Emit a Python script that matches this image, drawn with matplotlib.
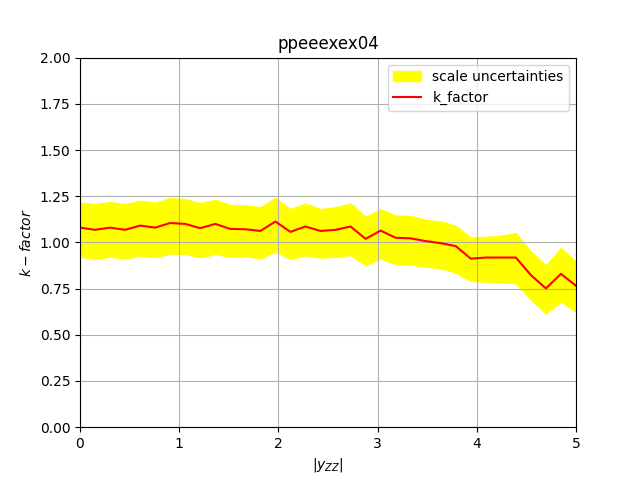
import numpy as np
import matplotlib
matplotlib.use("Agg")
import matplotlib.pyplot as plt

x = np.linspace(0, 5, 34)
k_factor = [1.08, 1.068, 1.08, 1.068, 1.091, 1.08, 1.105, 1.10, 1.077, 1.10, 1.073, 1.071,
            1.062, 1.113, 1.057, 1.086, 1.062, 1.068, 1.086, 1.019, 1.064, 1.025, 1.022,
            1.007, 0.996, 0.98, 0.912, 0.918, 0.918, 0.918, 0.823, 0.751, 0.83, 0.765]
upper = [1.216, 1.207, 1.218, 1.207, 1.225, 1.214, 1.24, 1.234, 1.212, 1.23, 1.203, 1.20,
         1.19, 1.24, 1.18, 1.21, 1.18, 1.19, 1.21, 1.138, 1.18, 1.145, 1.143, 1.122,
         1.113, 1.09, 1.025, 1.03, 1.036, 1.05, 0.95, 0.875, 0.97, 0.895]
lower = [0.923, 0.91, 0.923, 0.912, 0.929, 0.92, 0.94, 0.937, 0.92, 0.937, 0.923, 0.925,
         0.914, 0.95, 0.912, 0.93, 0.918, 0.923, 0.932, 0.876, 0.914, 0.883, 0.88, 0.87,
         0.86, 0.837, 0.792, 0.788, 0.783, 0.78, 0.69, 0.617, 0.68, 0.625]

fig, ax = plt.subplots(figsize=(6.4, 4.8), dpi=100)
ax.fill_between(x, lower, upper, color='yellow', label='scale uncertainties')
ax.plot(x, k_factor, color='red', label='k_factor')
ax.set_xlim(0, 5)
ax.set_ylim(0, 2)
ax.grid(True)
ax.set_title('ppeeexex04')
ax.set_xlabel(r'$|y_{ZZ}|$')
ax.set_ylabel(r'$k-factor$')
ax.legend(loc='upper right')
plt.savefig('out.png')
